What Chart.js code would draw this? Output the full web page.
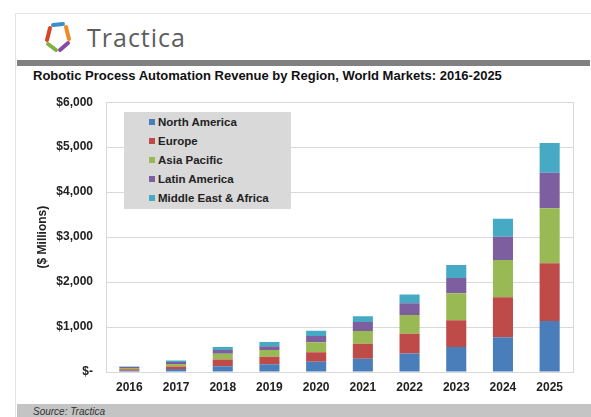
<!DOCTYPE html>
<html>
<head>
<meta charset="utf-8">
<script src="https://cdn.jsdelivr.net/npm/chart.js@4"></script>
<style>
  body { margin: 0; background: #fff; font-family: "Liberation Sans", Arial, sans-serif; }
  #frame { position: absolute; left: 15px; top: 13px; width: 576px; height: 404px; border-left: 1px solid #e4e4e4; border-top: 1px solid #e4e4e4; box-sizing: border-box; }
  #logoText { position: absolute; left: 87px; top: 20px; font-family: "Open Sans", sans-serif; font-size: 25px; color: #5e5e5e; letter-spacing: 1px; }
  #logoIcon { position: absolute; left: 44px; top: 21px; }
  #bar { position: absolute; left: 17px; top: 60px; width: 573px; height: 6px; background: #808080; }
  #title { position: absolute; left: 33px; top: 68px; font-size: 13px; font-weight: bold; color: #111; white-space: nowrap; }
  #foot { position: absolute; left: 17px; top: 404px; width: 574px; height: 13px; background: #c4c4c4; }
  #foot span { position: absolute; left: 16px; top: 2px; font-size: 10px; font-style: italic; color: #333; }
  #wrap { position: absolute; left: 20px; top: 82px; width: 570px; height: 320px; }
  #legend { position: absolute; left: 124px; top: 112px; width: 167px; height: 97px; background: #d9d9d9; }
  #legend div { position: absolute; left: 25px; font-size: 11.5px; font-weight: bold; color: #222; white-space: nowrap; }
  #legend i { display: inline-block; width: 6px; height: 6px; margin-right: 3px; vertical-align: 1px; }
</style>
</head>
<body>
<div id="frame"></div>
<svg id="logoIcon" width="28" height="32" viewBox="0 0 28 32">
  <path d="M9 4 L19 3" stroke="#3a8fc9" stroke-width="4" fill="none" stroke-linecap="round"/>
  <path d="M22 6 L25 18" stroke="#f08a24" stroke-width="4" fill="none" stroke-linecap="round"/>
  <path d="M24 22 L16 29" stroke="#8a4aa0" stroke-width="4" fill="none" stroke-linecap="round"/>
  <path d="M12 29 L4 23" stroke="#7cb342" stroke-width="4" fill="none" stroke-linecap="round"/>
  <path d="M3 19 L6 7" stroke="#d9452b" stroke-width="4" fill="none" stroke-linecap="round"/>
</svg>
<div id="logoText">Tractica</div>
<div id="bar"></div>
<div id="title">Robotic Process Automation Revenue by Region, World Markets: 2016-2025</div>
<div id="wrap"><canvas id="chart"></canvas></div>
<div id="legend"></div>
<div id="foot"><span>Source: Tractica</span></div>
<script>
// Data ($ millions)
const years = ["2016", "2017", "2018", "2019", "2020", "2021", "2022", "2023", "2024", "2025"];
const northAmerica = [30, 65, 130, 170, 230, 295, 410, 555, 775, 1135];
const europe = [30, 55, 150, 170, 210, 335, 440, 595, 885, 1285];
const asiaPacific = [30, 60, 125, 150, 220, 280, 420, 600, 830, 1220];
const latinAmerica = [20, 40, 85, 85, 140, 200, 260, 340, 520, 790];
const middleEastAfrica = [15, 35, 65, 90, 120, 130, 195, 290, 400, 665];
const yTickLabels = ["$-", "$1,000", "$2,000", "$3,000", "$4,000", "$5,000", "$6,000"];

const series = [
  { label: "North America", data: northAmerica, color: "#4a7ebb" },
  { label: "Europe", data: europe, color: "#be4b48" },
  { label: "Asia Pacific", data: asiaPacific, color: "#98b954" },
  { label: "Latin America", data: latinAmerica, color: "#7d5fa0" },
  { label: "Middle East & Africa", data: middleEastAfrica, color: "#46aac5" },
];

// Legend box (html, sits inside the plot)
const legendEl = document.getElementById("legend");
series.forEach((s, i) => {
  const row = document.createElement("div");
  row.style.top = (4 + i * 19) + "px";
  row.innerHTML = '<i style="background:' + s.color + '"></i>' + s.label;
  legendEl.appendChild(row);
});

// plot border
const plotBorder = {
  id: "plotBorder",
  afterDraw(chart) {
    const a = chart.chartArea, ctx = chart.ctx;
    ctx.save();
    ctx.strokeStyle = "#d9d9d9";
    ctx.lineWidth = 1;
    ctx.strokeRect(Math.round(a.left) + 0.5, Math.round(a.top) + 0.5, Math.round(a.right - a.left), Math.round(a.bottom - a.top));
    ctx.restore();
  }
};

const ctx = document.getElementById("chart").getContext("2d");
new Chart(ctx, {
  type: "bar",
  data: {
    labels: years,
    datasets: series.map(s => ({
      label: s.label,
      data: s.data,
      backgroundColor: s.color,
      barPercentage: 0.43,
      categoryPercentage: 1,
    })),
  },
  options: {
    responsive: true,
    maintainAspectRatio: false,
    animation: false,
    layout: { padding: { top: 3, right: 17, bottom: 0, left: 0 } },
    plugins: { legend: { display: false }, tooltip: { enabled: false } },
    scales: {
      x: {
        stacked: true,
        grid: { display: false },
        border: { color: "#d9d9d9" },
        ticks: { color: "#222", padding: 0, font: { family: "Liberation Sans", size: 12, weight: "bold" } },
        afterFit: (s) => { s.height = 30; },
      },
      y: {
        stacked: true,
        min: 0,
        max: 6000,
        grid: { color: "#d9d9d9", drawTicks: false },
        border: { display: false },
        ticks: {
          stepSize: 1000,
          padding: 13,
          color: "#222",
          font: { family: "Liberation Sans", size: 12, weight: "bold" },
          callback: (v, i) => yTickLabels[i],
        },
        title: {
          display: true,
          text: "($ Millions)",
          color: "#222",
          padding: { top: 15, bottom: 0 },
          font: { family: "Liberation Sans", size: 12, weight: "bold" },
        },
        afterFit: (s) => { s.width = 86; },
      },
    },
  },
  plugins: [plotBorder],
});
</script>
</body>
</html>
